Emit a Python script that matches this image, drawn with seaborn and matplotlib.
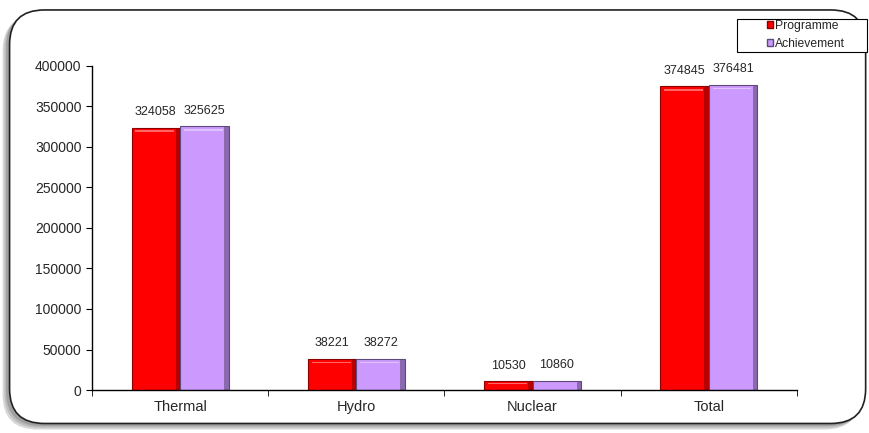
import seaborn as sns
import matplotlib.pyplot as plt
import pandas as pd
from matplotlib.patches import FancyBboxPatch, Rectangle

categories = ['Thermal', 'Hydro', 'Nuclear', 'Total']
programme = [324058, 38221, 10530, 374845]
achievement = [325625, 38272, 10860, 376481]

df = pd.DataFrame({
    'category': categories * 2,
    'value': programme + achievement,
    'series': ['Programme'] * 4 + ['Achievement'] * 4,
})

sns.set_style('white')
plt.rcParams['font.family'] = ['Liberation Sans', 'DejaVu Sans']

fig = plt.figure(figsize=(8.7, 4.33), dpi=100)

# rounded frame with a soft shadow
for i, c in enumerate(['#d8d8d8', '#bdbdbd', '#a0a0a0']):
    fig.patches.append(FancyBboxPatch((0.003 + 0.002 * i, 0.008 + 0.004 * i), 0.985, 0.955,
                                      boxstyle='round,pad=0,rounding_size=0.04',
                                      transform=fig.transFigure, facecolor=c, edgecolor='none',
                                      mutation_aspect=2.0, zorder=-5 + i))
fig.patches.append(FancyBboxPatch((0.011, 0.022), 0.984, 0.955, boxstyle='round,pad=0,rounding_size=0.04',
                                  transform=fig.transFigure, facecolor='white', edgecolor='#222222',
                                  linewidth=1.2, mutation_aspect=2.0, zorder=-1))

ax = fig.add_axes([0.1057, 0.0993, 0.8103, 0.7483])
ax.patch.set_alpha(0)
sns.barplot(data=df, x='category', y='value', hue='series', ax=ax,
            palette={'Programme': '#FF0000', 'Achievement': '#CC99FF'},
            width=0.55, gap=0, saturation=1, legend=False)

edge = {'Programme': '#8B0000', 'Achievement': '#5E4A7A'}
light = {'Programme': '#FF8080', 'Achievement': '#E6CCFF'}
for cont, name in zip(ax.containers, ['Programme', 'Achievement']):
    for bar in list(cont):
        bar.set_edgecolor(edge[name])
        bar.set_linewidth(0.8)
        x, w, h = bar.get_x(), bar.get_width(), bar.get_height()
        # bevel look: dark right side, light top band
        ax.add_patch(Rectangle((x + w * 0.91, 0), w * 0.09, h, facecolor=edge[name],
                               alpha=0.6, linewidth=0, zorder=bar.get_zorder() + 0.1))
        ax.add_patch(Rectangle((x + w * 0.08, h - min(h * 0.25, 5500)), w * 0.8, min(h * 0.1, 2200),
                               facecolor=light[name], alpha=0.8, linewidth=0,
                               zorder=bar.get_zorder() + 0.1))
    ax.bar_label(cont, fmt='%d', padding=7, fontsize=9)

ax.set_ylim(0, 400000)
ax.set_xlim(-0.5, 3.5)
ax.set_yticks(range(0, 400001, 50000))
ax.tick_params(axis='y', labelsize=10, length=4, direction='out', left=True, color='black')
ax.set_xticks([0, 1, 2, 3])
ax.set_xticks([-0.5, 0.5, 1.5, 2.5, 3.5], minor=True)
ax.tick_params(axis='x', which='major', length=0, labelsize=10.5, pad=7)
ax.tick_params(axis='x', which='minor', length=4, direction='out', bottom=True, color='black')
ax.set_xlabel('')
ax.set_ylabel('')
for s in ['top', 'right']:
    ax.spines[s].set_visible(False)
for s in ['left', 'bottom']:
    ax.spines[s].set_color('black')
    ax.spines[s].set_linewidth(1.0)

# legend box
fig.patches.append(Rectangle((0.847, 0.880), 0.150, 0.075, transform=fig.transFigure,
                             facecolor='white', edgecolor='black', linewidth=0.8, zorder=2))
handles = [plt.Rectangle((0, 0), 1, 1, facecolor='#FF0000', edgecolor='#8B0000'),
           plt.Rectangle((0, 0), 1, 1, facecolor='#CC99FF', edgecolor='#5E4A7A')]
leg = fig.legend(handles, ['Programme', 'Achievement'], loc='upper left',
                 bbox_to_anchor=(0.877, 0.962), fontsize=8.7, frameon=False,
                 handlelength=0.5, handleheight=0.5, handletextpad=0.2, borderpad=0.3,
                 labelspacing=0.45, borderaxespad=0)
leg.set_zorder(3)

fig.savefig('out.png', dpi=100)
